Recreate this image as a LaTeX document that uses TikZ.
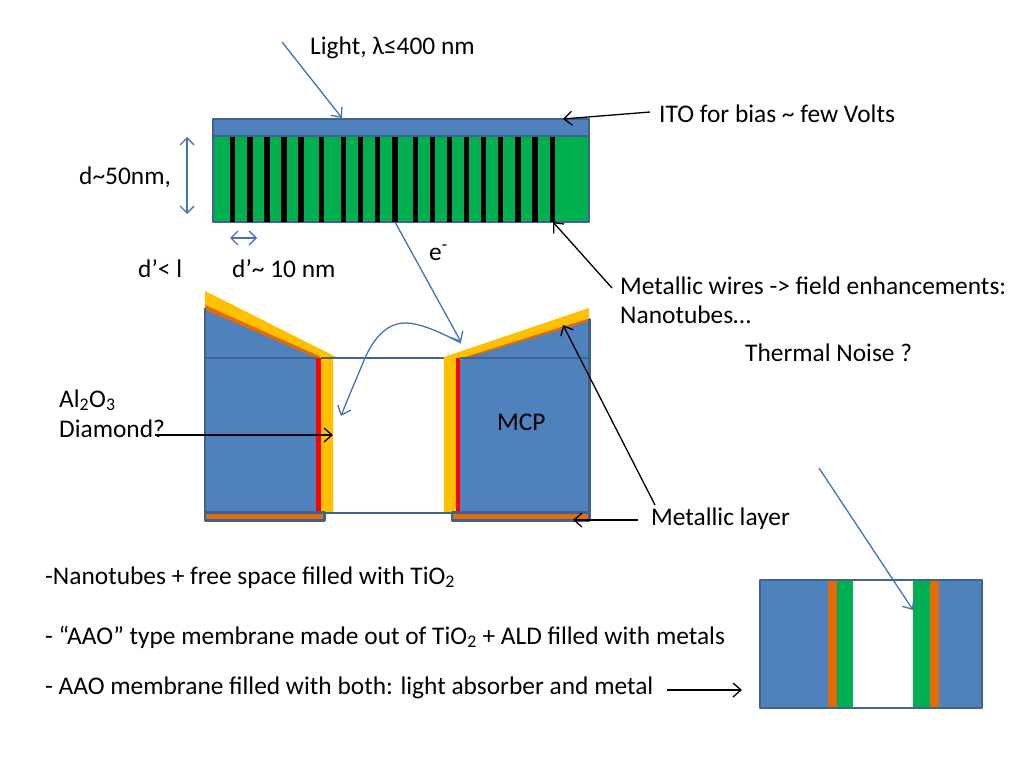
\documentclass[tikz,border=0pt]{standalone}
\usepackage{fontspec}
\setmainfont{Carlito}
\usetikzlibrary{arrows.meta}
\definecolor{mblue}{HTML}{4F81BD}
\definecolor{dblue}{HTML}{3F628F}
\definecolor{mgreen}{HTML}{00B050}
\definecolor{morange}{HTML}{E36C0A}
\definecolor{myellow}{HTML}{FFC000}
\tikzset{
 lbl/.style={anchor=base west,inner sep=0pt,font=\fontsize{25.4}{30}\selectfont,text=black},
 blk/.style={draw=black,line width=1.3pt,-{Straight Barb[length=8pt,width=14pt,line width=1.3pt]}},
 blu/.style={draw=mblue!90!black,line width=1.3pt,-{Straight Barb[length=8pt,width=14pt,line width=1.3pt]}},
 dbl/.style={draw=mblue!90!black,line width=1.3pt,{Straight Barb[length=7pt,width=14pt,line width=1.3pt]}-{Straight Barb[length=7pt,width=14pt,line width=1.3pt]}},
 box/.style={fill=mblue,draw=dblue,line width=2pt,line join=round},
 wire/.style={fill=black},
 thin/.style={draw=dblue,line width=1.1pt}
}
\begin{document}
\begin{tikzpicture}[x=1pt,y=-1pt]
\useasboundingbox (0,0) rectangle (1024,768);
% top stack
\fill[mgreen] (213,136) rectangle (589,222);
\draw[dblue,line width=1.8pt,line join=round] (213,136) rectangle (589,222);
\foreach \x in {232.7,250,267,284,301,321.3,343.7,360.7,377.7,395,415.7,432.7,449.7,466.7,483.7,500.7,518,535,552.3}
  \fill[wire] (\x-2.7,137) rectangle (\x+2.7,221.5);
\draw[box] (213,118.5) rectangle (589,136);
% left MCP
\fill[myellow] (205,291) -- (337,357.5) -- (333,358) -- (333,512) -- (316,512) -- (316,358) -- (205,308) -- cycle;
\fill[morange] (205,305) -- (320,356.5) -- (320,360) -- (205,311) -- cycle;
\fill[mblue] (205,310) -- (316,358) -- (316,512) -- (205,512) -- cycle;
\draw[dblue,line width=2pt] (316,358) -- (205,358);
\draw[dblue,line width=2.2pt] (205,308) -- (205,512);
\fill[red] (316,358) rectangle (321,512);
% right MCP
\fill[myellow] (441,358) -- (589,308) -- (589,318) -- (460,360) -- (460,512) -- (444,512) -- (444,358) -- cycle;
\fill[morange] (460,358.5) -- (590,318) -- (590,323) -- (462,360) -- cycle;
\fill[mblue] (460,360) -- (590,321) -- (590,512) -- (460,512) -- cycle;
\draw[dblue,line width=2pt] (460,358) -- (590,358);
\draw[dblue,line width=2.2pt] (589.5,319) -- (589.5,512);
\fill[red] (456,358) rectangle (460,512);
% cross lines
\draw[thin] (321,358) -- (444,358);
\draw[thin] (321,513) -- (456,513);
% electrodes
\draw[fill=morange,draw=dblue,line width=2.2pt,line join=round] (205,512.5) rectangle (324.5,520.5);
\draw[fill=morange,draw=dblue,line width=2.2pt,line join=round] (452,512.5) rectangle (589.5,520.5);
% right small pore
\draw[box] (759.5,580) rectangle (981.5,708);
\fill[white] (853,581) rectangle (913,707);
\fill[morange] (828,581) rectangle (837,707);
\fill[mgreen] (837,581) rectangle (853,707);
\fill[mgreen] (913,581) rectangle (930,707);
\fill[morange] (930,581) rectangle (939,707);
% text
\node[lbl] (light) at (310,55) {Light, λ≤400 nm};
\node[lbl] (ito) at (659,122) {ITO for bias \textasciitilde{} few Volts};
\node[lbl] (dd) at (79,184) {d\textasciitilde50nm,};
\node[lbl] (dl) at (138,277) {d’< l};
\node[lbl] (dp) at (232,277) {d’\textasciitilde{} 10 nm};
\node[lbl] (em) at (429,260) {e\textsuperscript{-}};
\node[lbl] (mw) at (620,294) {Metallic wires -> field enhancements:};
\node[lbl] (nt) at (620,323) {Nanotubes…};
\node[lbl] (tn) at (745,361) {Thermal Noise ?};
\node[lbl] (al) at (59,407) {Al\textsubscript{2}O\textsubscript{3}};
\node[lbl] (di) at (59,437) {Diamond?};
\node[lbl] (mcp) at (497,430) {MCP};
\node[lbl] (ml) at (651,525) {Metallic layer};
\node[lbl] (l1) at (45,584) {-Nanotubes + free space filled with TiO\textsubscript{2}};
\node[lbl] (l2) at (45,644) {- “AAO” type membrane made out of TiO\textsubscript{2} + ALD filled with metals};
\node[lbl] (l3) at (45,694) {- AAO membrane filled with both: light absorber and metal};
% connector ends
\coordinate (a1) at (282,42);  \coordinate (a2) at (342,118);
\coordinate (b1) at (650,112); \coordinate (b2) at (563,119);
\coordinate (c1) at (612,288); \coordinate (c2) at (553,222);
\coordinate (d1) at (187,137); \coordinate (d2) at (187,214);
\coordinate (e1) at (230,238); \coordinate (e2) at (257,238);
\coordinate (f1) at (395,222); \coordinate (f2) at (461,342);
\coordinate (g1) at (461,343); \coordinate (g2) at (341,416);
\coordinate (h1) at (655,505); \coordinate (h2) at (563,325);
\coordinate (i1) at (638,520); \coordinate (i2) at (573,520);
\coordinate (j1) at (155,435); \coordinate (j2) at (333,435);
\coordinate (k1) at (667,690); \coordinate (k2) at (742,690);
\coordinate (m1) at (819,468); \coordinate (m2) at (913,610);
% connectors
\draw[blu] (a1) -- (a2);
\draw[blk] (b1) -- (b2);
\draw[blk] (c1) -- (c2);
\draw[dbl] (d1) -- (d2);
\draw[dbl] (e1) -- (e2);
\draw[blu] (f1) -- (f2);
\draw[blu] (g1) .. controls (440,332) and (420,323) .. (405,323) .. controls (385,323) and (372,342) .. (365,358) .. controls (358,375) and (348,398) .. (g2);
\draw[blk] (h1) -- (h2);
\draw[blk] (i1) -- (i2);
\draw[blk] (j1) -- (j2);
\draw[blk] (k1) -- (k2);
\draw[blu] (m1) -- (m2);
\end{tikzpicture}
\end{document}
